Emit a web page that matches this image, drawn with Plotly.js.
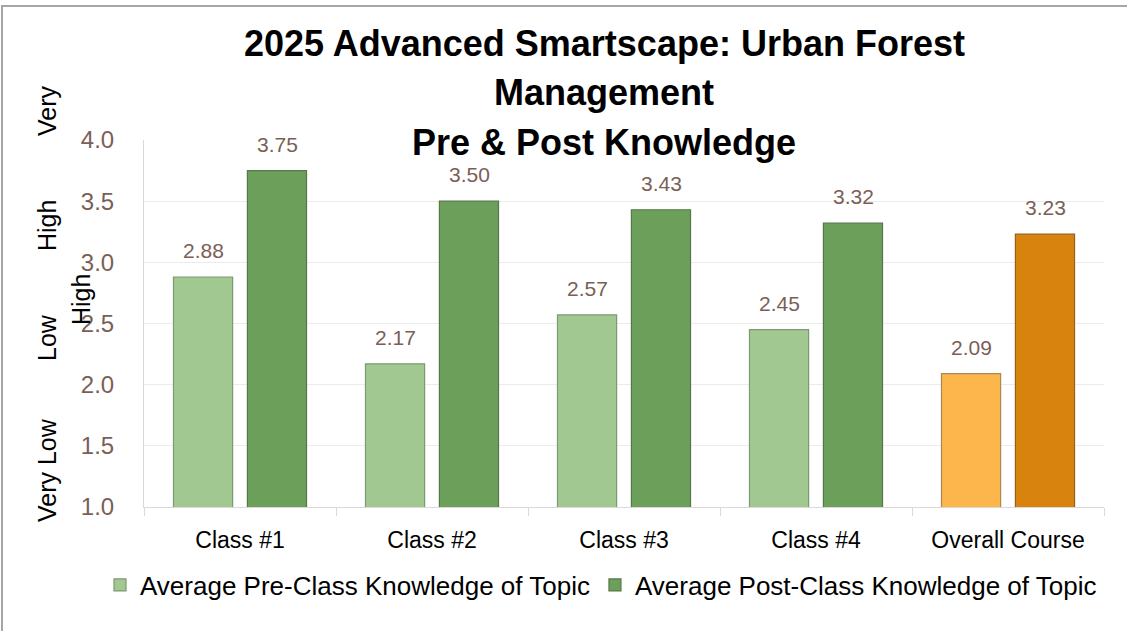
<!DOCTYPE html>
<html>
<head>
<meta charset="utf-8">
<script src="https://cdn.plot.ly/plotly-3.0.1.min.js"></script>
<style>
html,body{margin:0;padding:0;background:#fff;}
#wrap{position:relative;width:1127px;height:631px;overflow:hidden;}
#chart{position:absolute;left:0;top:0;width:1127px;height:631px;}
#frame{position:absolute;left:1px;top:5px;width:1140px;height:640px;border-top:2px solid #a6a6a6;border-left:2px solid #a6a6a6;pointer-events:none;}
</style>
</head>
<body>
<div id="wrap"><div id="chart"></div><div id="frame"></div></div>
<script>
const categories = ["Class #1", "Class #2", "Class #3", "Class #4", "Overall Course"];
const preValues = [2.88, 2.17, 2.57, 2.45, 2.09];
const postValues = [3.75, 3.50, 3.43, 3.32, 3.23];
const seriesNames = ["Average Pre-Class Knowledge of Topic", "Average Post-Class Knowledge of Topic"];
const yTickVals = [1.0, 1.5, 2.0, 2.5, 3.0, 3.5, 4.0];
const yTickText = ["1.0", "1.5", "2.0", "2.5", "3.0", "3.5", "4.0"];
const titleLines = ["2025 Advanced Smartscape: Urban Forest", "Management", "Pre & Post Knowledge"];
const sideLabels = ["Very", "High", "Low", "Very Low", "High"];

const preColors = ["#a2c892", "#a2c892", "#a2c892", "#a2c892", "#fdb64b"];
const postColors = ["#6b9f5a", "#6b9f5a", "#6b9f5a", "#6b9f5a", "#d9830f"];
const preLines = ["#7d9971", "#7d9971", "#7d9971", "#7d9971", "#a98a55"];
const postLines = ["#56784a", "#56784a", "#56784a", "#56784a", "#94611c"];

const FONT = "'Liberation Sans', Arial, sans-serif";
const labelColor = "#7a5f56";

const traces = [
  {
    type: "bar", name: seriesNames[0], x: categories, y: preValues,
    marker: {color: preColors, line: {color: preLines, width: 1.2}},
    hoverinfo: "x+y"
  },
  {
    type: "bar", name: seriesNames[1], x: categories, y: postValues,
    marker: {color: postColors, line: {color: postLines, width: 1.2}},
    hoverinfo: "x+y"
  }
];

// plot area: x 144..1104, y 140..507
const L = 144, R = 1104, T = 140, B = 507;
const px = x => (x - L) / (R - L);
const py = y => (B - y) / (B - T);

const annotations = [];
// value labels, placed through the axes' own scales
const offsets = [-37, 37];
[preValues, postValues].forEach((vals, s) => {
  vals.forEach((v, i) => annotations.push({
    text: v.toFixed(2), x: categories[i], y: v, xref: "x", yref: "y",
    xshift: offsets[s], yshift: 13, yanchor: "bottom", xanchor: "center",
    showarrow: false, font: {family: FONT, size: 21, color: labelColor}
  }));
});
const titleY = [43, 92, 142];
titleLines.forEach((t, i) => annotations.push({
  text: "<b>" + t + "</b>", xref: "paper", yref: "paper", x: px(604), y: py(titleY[i]),
  xanchor: "center", yanchor: "middle", showarrow: false,
  font: {family: FONT, size: 36, color: "#000"}
}));
const sidePos = [[47, 111], [47, 226], [47, 338], [47, 470], [81, 300]];
sideLabels.forEach((t, i) => annotations.push({
  text: t, xref: "paper", yref: "paper", x: px(sidePos[i][0]), y: py(sidePos[i][1]),
  xanchor: "center", yanchor: "middle", showarrow: false, textangle: -90,
  font: {family: FONT, size: 25, color: "#000"}
}));

const layout = {
  width: 1127, height: 631,
  margin: {l: L, r: 1127 - R, t: T, b: 631 - B, pad: 0},
  paper_bgcolor: "#fff", plot_bgcolor: "#fff",
  showlegend: true,
  barmode: "group", bargap: 0.23, bargroupgap: 0.2,
  font: {family: FONT, color: "#000"},
  xaxis: {
    type: "category", tickson: "boundaries", ticks: "outside", ticklen: 8,
    tickcolor: "#d9d9d9", showline: true, linecolor: "#d9d9d9", linewidth: 1,
    showgrid: false, tickfont: {family: FONT, size: 23, color: "#000"},
    ticklabelstandoff: 12, fixedrange: true
  },
  yaxis: {
    range: [1, 4], tickvals: yTickVals, ticktext: yTickText,
    ticks: "", showline: true, linecolor: "#d9d9d9", linewidth: 1,
    showgrid: true, gridcolor: "#ebebeb", gridwidth: 1, zeroline: false,
    tickfont: {family: FONT, size: 24, color: labelColor},
    ticklabelstandoff: 24, fixedrange: true
  },
  legend: {
    orientation: "h", x: px(100), y: py(585), xanchor: "left", yanchor: "middle",
    font: {family: FONT, size: 26, color: "#000"}, itemwidth: 30,
    bgcolor: "rgba(0,0,0,0)"
  },
  annotations: annotations
};

Plotly.newPlot("chart", traces, layout, {displayModeBar: false, staticPlot: true});
</script>
</body>
</html>
